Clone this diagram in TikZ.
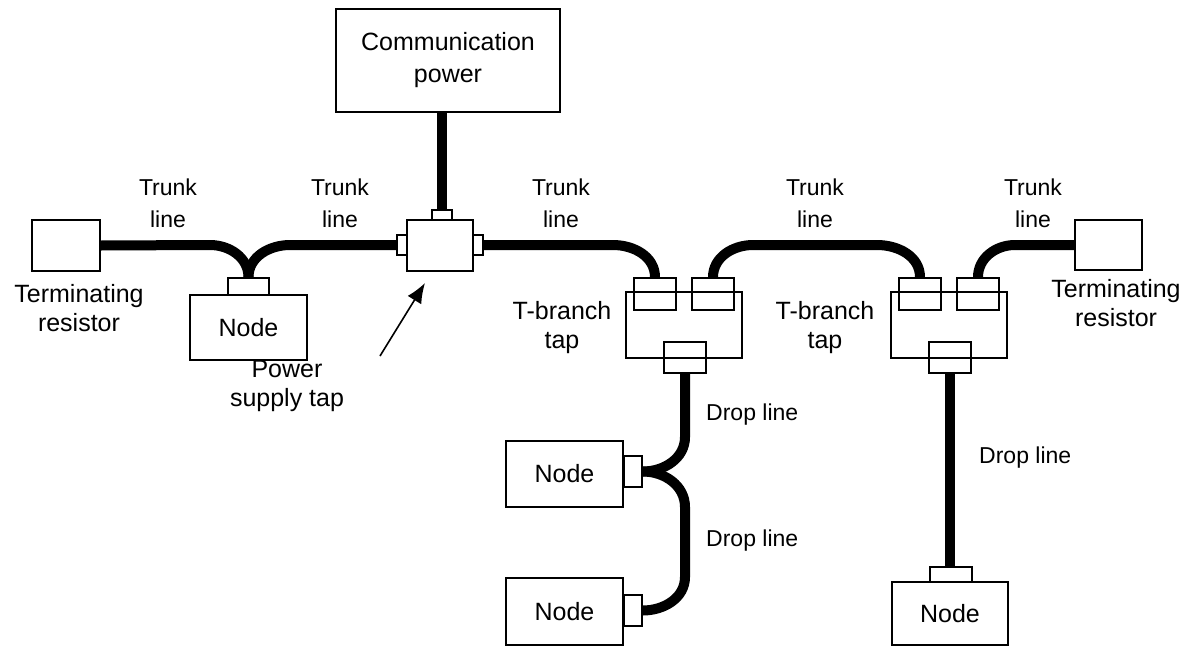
\documentclass[tikz,border=0pt]{standalone}
\usepackage{fontspec}
\setmainfont{Liberation Sans}
\usetikzlibrary{arrows.meta}

\newcommand{\lblfont}{\fontsize{25}{29}\selectfont}
\newcommand{\cblfont}{\fontsize{23}{32}\selectfont}
\newcommand{\commfont}{\fontsize{25}{32}\selectfont}

\tikzset{
  box/.style={draw,line width=1.6pt,inner sep=0pt,font=\lblfont,align=center},
  plug/.style={draw,line width=1.6pt,inner sep=0pt},
  cable/.style={line width=10pt},
  lbl/.style={font=\lblfont,align=center,inner sep=0pt},
  cbl/.style={font=\cblfont,align=center,inner sep=0pt},
}

\begin{document}
\begin{tikzpicture}[x=1pt,y=1pt,>=Latex]
\useasboundingbox (0,0) rectangle (1195,-648);
% Power
\node[box,font=\commfont,minimum width=224pt,minimum height=103pt] (comm) at (448,-60.5) {Communication\\power};
\node[box,minimum width=66pt,minimum height=51pt] (ptap) at (440,-245.5) {};
\node[plug,minimum width=20pt,minimum height=10pt] (ptapT) at (442,-215) {};
\node[plug,minimum width=10pt,minimum height=20pt] (ptapL) at (402,-245) {};
\node[plug,minimum width=10pt,minimum height=20pt] (ptapR) at (478,-245) {};
% Terminating resistors
\node[box,minimum width=68pt,minimum height=51pt] (resL) at (66,-245.5) {};
\node[box,minimum width=67pt,minimum height=50pt] (resR) at (1108.5,-245) {};
% Nodes
\node[box,minimum width=117pt,minimum height=65pt] (node1) at (248.5,-327.5) {Node};
\node[plug,minimum width=41pt,minimum height=17pt] (node1c) at (248.5,-286.5) {};
\node[box,minimum width=117pt,minimum height=66pt] (node2) at (564.5,-474) {Node};
\node[plug,minimum width=18pt,minimum height=31pt] (node2c) at (633,-471.5) {};
\node[box,minimum width=117pt,minimum height=67pt] (node3) at (564.5,-611.5) {Node};
\node[plug,minimum width=18pt,minimum height=31pt] (node3c) at (633,-610.5) {};
\node[box,minimum width=116pt,minimum height=63pt] (node4) at (950,-613.5) {Node};
\node[plug,minimum width=42pt,minimum height=15pt] (node4c) at (951,-574.5) {};
% T-branch taps
\node[box,minimum width=116pt,minimum height=66pt] (tap1) at (684,-325) {};
\node[plug,minimum width=42pt,minimum height=32pt] (tap1a) at (655,-294) {};
\node[plug,minimum width=42pt,minimum height=32pt] (tap1b) at (713,-294) {};
\node[plug,minimum width=42pt,minimum height=31pt] (tap1c) at (685,-357.5) {};
\node[box,minimum width=116pt,minimum height=66pt] (tap2) at (949,-325) {};
\node[plug,minimum width=42pt,minimum height=32pt] (tap2a) at (920,-294) {};
\node[plug,minimum width=42pt,minimum height=32pt] (tap2b) at (978,-294) {};
\node[plug,minimum width=42pt,minimum height=31pt] (tap2c) at (950,-357.5) {};
% Trunk line
\draw[cable] (resL.east) -- (210,-245) to[out=0,in=90] (node1c.north);
\draw[cable] (node1c.north) to[out=90,in=180] (290,-245) -- (ptapL.west);
\draw[cable] (ptapR.east) -- (613,-245) to[out=0,in=90] (tap1a.north);
\draw[cable] (tap1b.north) to[out=90,in=180] (753,-245) -- (877,-245) to[out=0,in=90] (tap2a.north);
\draw[cable] (tap2b.north) to[out=90,in=180] (1015,-245) -- (resR.west);
\draw[cable] (ptapT.north) -- (ptapT.north |- comm.south);
% Drop line
\draw[cable] (tap1c.south) -- (685,-437) to[out=270,in=0] (node2c.east);
\draw[cable] (node2c.east) to[out=0,in=90] (685,-507) -- (685,-577) to[out=270,in=0] (node3c.east);
\draw[cable] (tap2c.south) -- (tap2c.south |- node4c.north);
% Labels
\node[cbl] (trunk1) at (168,-203) {Trunk\\line};
\node[cbl] (trunk2) at (340,-203) {Trunk\\line};
\node[cbl] (trunk3) at (561,-203) {Trunk\\line};
\node[cbl] (trunk4) at (815,-203) {Trunk\\line};
\node[cbl] (trunk5) at (1033,-203) {Trunk\\line};
\node[cbl,anchor=base west] (drop1) at (706,-420) {Drop line};
\node[cbl,anchor=base west] (drop2) at (706,-546) {Drop line};
\node[cbl,anchor=base west] (drop3) at (979,-463) {Drop line};
\node[lbl] (termL) at (79,-308.5) {Terminating\\resistor};
\node[lbl] (termR) at (1116,-303.5) {Terminating\\resistor};
\node[lbl] (tbr1) at (562,-327.5) {T-branch\\tap};
\node[lbl] (tbr2) at (825,-327.5) {T-branch\\tap};
\node[lbl] (pst) at (287,-386) {Power\\supply tap};
\coordinate (ptail) at (380,-356);
\coordinate (ptip) at (425,-283);
\draw[line width=1.6pt,-{Latex[length=20pt,width=16pt]}] (ptail) -- (ptip);
\end{tikzpicture}
\end{document}
